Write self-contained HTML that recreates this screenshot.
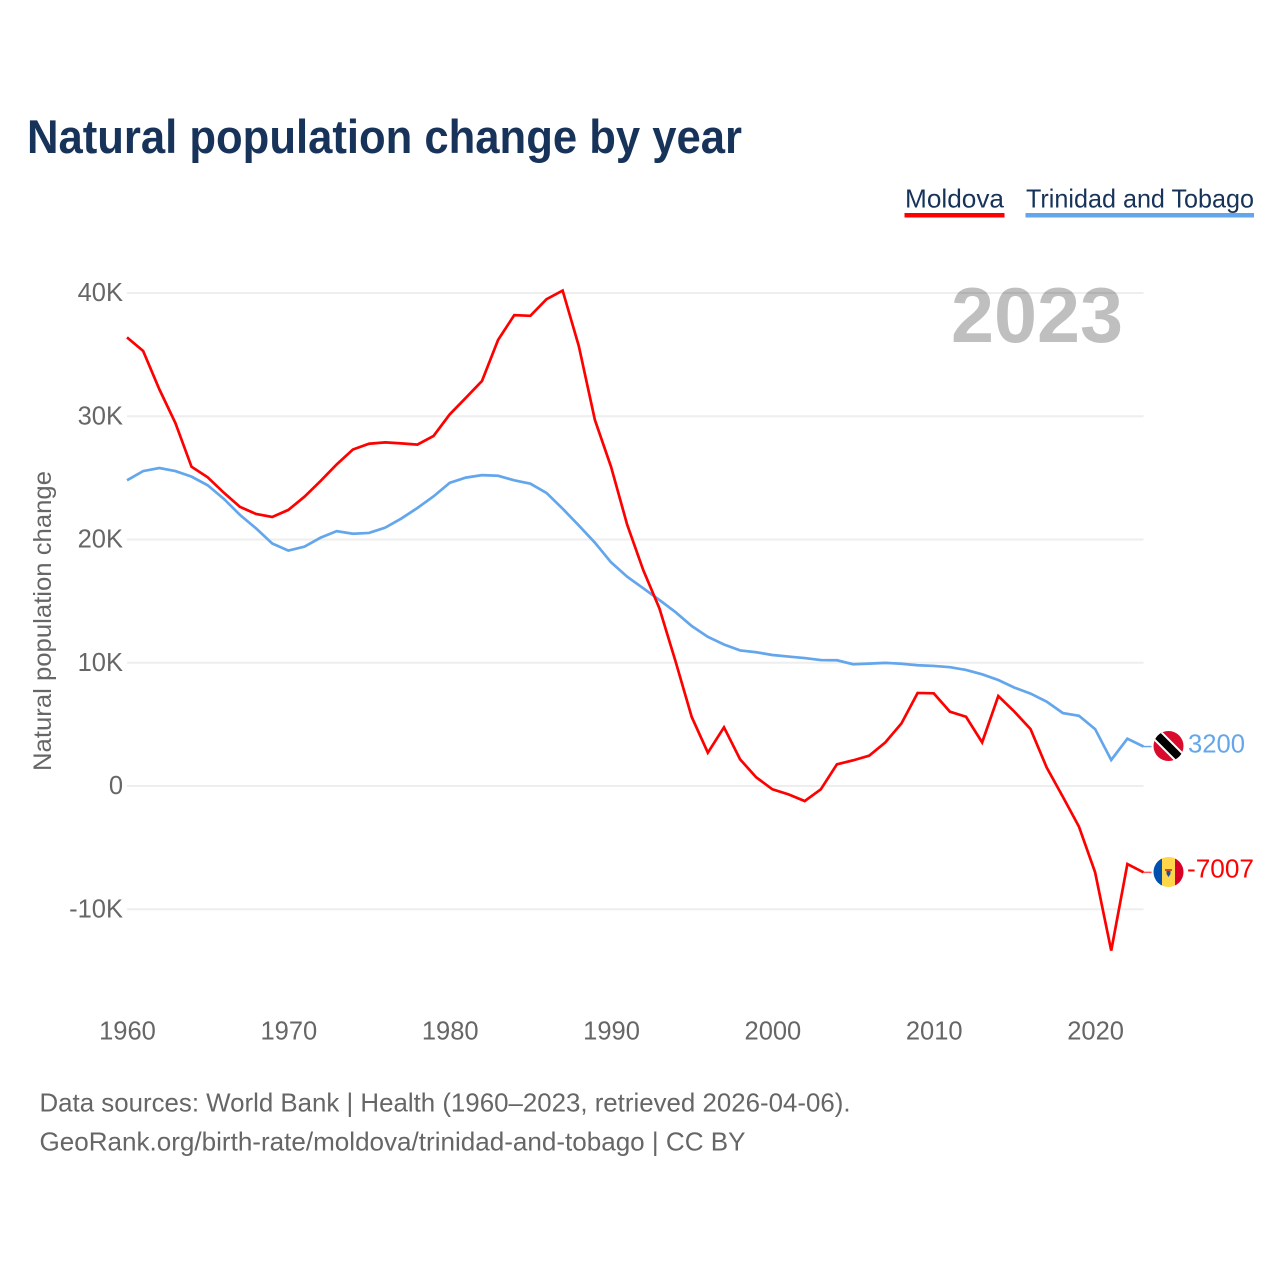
<!DOCTYPE html>
<html lang="en">
<head>
<meta charset="utf-8">
<title>Natural population change by year</title>
<style>
html,body{margin:0;padding:0;background:#fff;width:1280px;height:1280px;overflow:hidden}
svg{display:block;font-family:"Liberation Sans",sans-serif}
</style>
</head>
<body>
<svg id="chart" xmlns="http://www.w3.org/2000/svg" width="1280" height="1280" viewBox="0 0 1280 1280">
  <defs>
    <clipPath id="flag-clip-tt"><circle cx="1168.500" cy="746" r="15"/></clipPath>
    <clipPath id="flag-clip-md"><circle cx="1168.500" cy="872" r="15"/></clipPath>
  </defs>
  <text x="27" y="153" font-size="47" font-weight="700" fill="#17335a" textLength="715" lengthAdjust="spacingAndGlyphs">Natural population change by year</text>

  <g>
    <g>
      <text x="905" y="207.500" font-size="26" fill="#17335a" textLength="99" lengthAdjust="spacingAndGlyphs">Moldova</text>
      <rect x="904.500" y="213" width="100" height="4.500" fill="#ff0000"/>
    </g>
    <g>
      <text x="1026" y="207.500" font-size="26" fill="#17335a" textLength="228" lengthAdjust="spacingAndGlyphs">Trinidad and Tobago</text>
      <rect x="1025.500" y="213" width="228.500" height="4.500" fill="#63a6ec"/>
    </g>
  </g>

  <g id="grid"></g>
  <g id="y-ticks"></g>
  <g id="x-ticks"></g>

  <text transform="translate(51,771) rotate(-90)" font-size="25" fill="#666666" textLength="300" lengthAdjust="spacingAndGlyphs">Natural population change</text>

  <text x="951" y="342" font-size="78" font-weight="700" fill="#000000" fill-opacity="0.25" textLength="172" lengthAdjust="spacingAndGlyphs">2023</text>

  <g id="series"></g>

  <g clip-path="url(#flag-clip-tt)">
    <rect x="1153" y="731" width="31" height="31" fill="#da0a2c"/>
    <line x1="1156" y1="734" x2="1181" y2="759" stroke="#ffffff" stroke-width="12"/>
    <line x1="1156" y1="734" x2="1181" y2="759" stroke="#000000" stroke-width="8"/>
  </g>
  <g clip-path="url(#flag-clip-md)">
    <rect x="1153" y="857" width="9" height="30" fill="#0050b0"/>
    <rect x="1162" y="857" width="13" height="30" fill="#ffd54a"/>
    <rect x="1175" y="857" width="9" height="30" fill="#d80027"/>
    <rect x="1165" y="869" width="7" height="2" fill="#c8502a"/>
    <path d="M1166.500 871h4v3l-2 3l-2-3z" fill="#1f4fa0"/>
  </g>

  <text id="label-tt" x="1188" y="752.500" font-size="26" fill="#63a6ec" textLength="57" lengthAdjust="spacingAndGlyphs"></text>
  <text id="label-md" x="1187" y="877.500" font-size="26" fill="#ff0000" textLength="67" lengthAdjust="spacingAndGlyphs"></text>

  <g>
    <text x="39.500" y="1111.500" font-size="26" fill="#666666" textLength="811" lengthAdjust="spacingAndGlyphs">Data sources: World Bank | Health (1960–2023, retrieved 2026-04-06).</text>
    <text x="39.500" y="1150.500" font-size="26" fill="#666666" textLength="706" lengthAdjust="spacingAndGlyphs">GeoRank.org/birth-rate/moldova/trinidad-and-tobago | CC BY</text>
  </g>
</svg>
<script>
const firstYear = 1960;
const lastYear = 2023;
const xTickValues = [1960, 1970, 1980, 1990, 2000, 2010, 2020];
const xTickLabels = ['1960', '1970', '1980', '1990', '2000', '2010', '2020'];
const yTickValues = [40000, 30000, 20000, 10000, 0, -10000];
const yTickLabels = ['40K', '30K', '20K', '10K', '0', '-10K'];
const moldova = [36400, 35300, 32200, 29450, 25900, 25050, 23800, 22650, 22070, 21830,
  22400, 23470, 24750, 26100, 27300, 27770, 27880, 27800, 27700, 28400,
  30150, 31500, 32860, 36200, 38200, 38150, 39500, 40200, 35700, 29700,
  25900, 21200, 17500, 14400, 10100, 5600, 2700, 4760, 2160, 700,
  -270, -680, -1220, -270, 1760, 2080, 2460, 3540, 5080, 7550,
  7520, 6030, 5620, 3540, 7300, 6030, 4620, 1500, -870, -3300,
  -7000, -13360, -6330, -7007];
const trinidad = [24800, 25550, 25800, 25550, 25100, 24400, 23300, 22000, 20900, 19680,
  19100, 19420, 20150, 20680, 20470, 20530, 20960, 21700, 22560, 23500,
  24600, 25020, 25220, 25170, 24800, 24530, 23780, 22500, 21140, 19740,
  18150, 16980, 16040, 15090, 14100, 12980, 12100, 11480, 11000, 10850,
  10630, 10500, 10380, 10220, 10200, 9880, 9930, 9990, 9920, 9800,
  9740, 9640, 9420, 9060, 8600, 7980, 7500, 6840, 5920, 5700,
  4620, 2110, 3840, 3200];

const NS = 'http://www.w3.org/2000/svg';
const xLeft = 127, xRight = 1143.5, yZero = 786, pxPerUnit = 123.25 / 10000;
function xScale(year) { return xLeft + (year - firstYear) * (xRight - xLeft) / (lastYear - firstYear); }
function yScale(value) { return yZero - value * pxPerUnit; }

const grid = document.getElementById('grid');
const yTicks = document.getElementById('y-ticks');
const xTicks = document.getElementById('x-ticks');
const series = document.getElementById('series');

yTickValues.forEach(function (v, i) {
  const line = document.createElementNS(NS, 'line');
  
  
  line.setAttribute('x1', xLeft);
  line.setAttribute('x2', xRight);
  line.setAttribute('y1', yScale(v));
  line.setAttribute('y2', yScale(v));
  line.setAttribute('stroke', '#eeeeee');
  line.setAttribute('stroke-width', '2');
  grid.appendChild(line);

  const t = document.createElementNS(NS, 'text');
  
  
  t.setAttribute('x', 123);
  t.setAttribute('y', yScale(v) + 8);
  t.setAttribute('text-anchor', 'end');
  t.setAttribute('font-size', '25.5');
  t.setAttribute('fill', '#666666');
  t.textContent = yTickLabels[i];
  yTicks.appendChild(t);
});

xTickValues.forEach(function (v, i) {
  const t = document.createElementNS(NS, 'text');
  
  
  t.setAttribute('x', xScale(v) + 0.5);
  t.setAttribute('y', 1039.5);
  t.setAttribute('text-anchor', 'middle');
  t.setAttribute('font-size', '25.5');
  t.setAttribute('fill', '#666666');
  t.textContent = xTickLabels[i];
  xTicks.appendChild(t);
});

function pathFor(values) {
  return values.map(function (v, i) {
    return (i ? 'L' : 'M') + xScale(firstYear + i).toFixed(2) + ' ' + yScale(v).toFixed(2);
  }).join('');
}

const blueLine = document.createElementNS(NS, 'path');


blueLine.setAttribute('d', pathFor(trinidad));
blueLine.setAttribute('fill', 'none');
blueLine.setAttribute('stroke', '#63a6ec');
blueLine.setAttribute('stroke-width', '2.7');
blueLine.setAttribute('stroke-linejoin', 'miter');
series.appendChild(blueLine);

const redLine = document.createElementNS(NS, 'path');


redLine.setAttribute('d', pathFor(moldova));
redLine.setAttribute('fill', 'none');
redLine.setAttribute('stroke', '#ff0000');
redLine.setAttribute('stroke-width', '2.7');
redLine.setAttribute('stroke-linejoin', 'miter');
series.appendChild(redLine);

const blueStub = document.createElementNS(NS, 'line');


blueStub.setAttribute('x1', xRight);
blueStub.setAttribute('x2', xRight + 8);
blueStub.setAttribute('y1', yScale(trinidad[trinidad.length - 1]));
blueStub.setAttribute('y2', yScale(trinidad[trinidad.length - 1]));
blueStub.setAttribute('stroke', '#63a6ec');
blueStub.setAttribute('stroke-width', '1.5');
series.appendChild(blueStub);

const redStub = document.createElementNS(NS, 'line');


redStub.setAttribute('x1', xRight);
redStub.setAttribute('x2', xRight + 8);
redStub.setAttribute('y1', yScale(moldova[moldova.length - 1]));
redStub.setAttribute('y2', yScale(moldova[moldova.length - 1]));
redStub.setAttribute('stroke', '#ff5555');
redStub.setAttribute('stroke-width', '1.5');
series.appendChild(redStub);

document.getElementById('label-tt').textContent = String(trinidad[trinidad.length - 1]);
document.getElementById('label-md').textContent = String(moldova[moldova.length - 1]);
</script>
</body>
</html>
